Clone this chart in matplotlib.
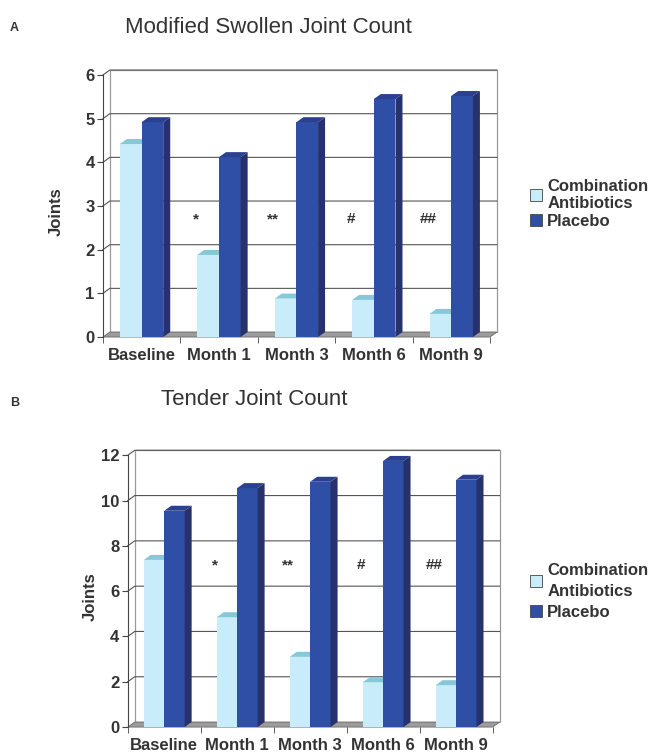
import numpy as np
import matplotlib.pyplot as plt
from matplotlib.patches import Polygon, Rectangle
from matplotlib.lines import Line2D

plt.rcParams['font.family'] = ['Liberation Sans', 'DejaVu Sans']

months = ['Baseline', 'Month 1', 'Month 3', 'Month 6', 'Month 9']
marks = ['', '*', '**', '#', '##']

swollen_combo = [4.42, 1.88, 0.88, 0.85, 0.53]
swollen_placebo = [4.92, 4.12, 4.92, 5.45, 5.52]
tender_combo = [7.38, 4.85, 3.1, 1.98, 1.85]
tender_placebo = [9.55, 10.55, 10.83, 11.75, 10.92]

light, light_top = '#c9ecfa', '#86c8d8'
dark, dark_top, dark_side = '#2f4ea6', '#2b4190', '#27316b'
W, H, DPI = 6.55, 7.55, 100
DEPTH_X, DEPTH_Y = 7, 5  # pixels


def bar3d(ax, x, h, w, ddx, ddy, front, top, side):
    ax.bar(x, h, w, align='edge', color=front, edgecolor='none', zorder=3)
    ax.add_patch(Polygon([(x, h), (x + w, h), (x + w + ddx, h + ddy), (x + ddx, h + ddy)],
                         closed=True, fc=top, ec='none', zorder=3, clip_on=False))
    ax.add_patch(Polygon([(x + w, 0), (x + w, h), (x + w + ddx, h + ddy), (x + w + ddx, ddy)],
                         closed=True, fc=side, ec='none', zorder=3, clip_on=False))


def panel(ax, combo, placebo, ymax, step, mark_y, legend_y, label_px, linesp, labsp):
    ax.set_xlim(-0.5, 4.5)
    ax.set_ylim(0, ymax)
    pos = ax.get_position()
    ddx = DEPTH_X / (pos.width * W * DPI / 5)
    ddy = DEPTH_Y / (pos.height * H * DPI / ymax)
    x0, x1 = -0.5, 4.5

    # back wall, side wall, floor
    ax.add_patch(Rectangle((x0 + ddx, ddy), x1 - x0, ymax, fc='white', ec='#9a9a9a',
                           lw=0.9, zorder=0, clip_on=False))
    for y in np.arange(step, ymax + step / 2, step):
        ax.add_line(Line2D([x0, x0 + ddx, x1 + ddx], [y, y + ddy, y + ddy], color='#555555',
                           lw=0.8, zorder=1, clip_on=False))
    ax.add_patch(Polygon([(x0, 0), (x1, 0), (x1 + ddx, ddy), (x0 + ddx, ddy)], closed=True,
                         fc='#9c9c9c', ec='#6a6a6a', lw=0.6, zorder=1, clip_on=False))

    w = 0.28
    xs = np.arange(len(months))
    for i in xs:
        bar3d(ax, i - w, combo[i], w, ddx, ddy, light, light_top, light)
        bar3d(ax, i, placebo[i], w, ddx, ddy, dark, dark_top, dark_side)
        if marks[i]:
            ax.text(i - 0.3, mark_y, marks[i], ha='center', va='center', fontsize=11,
                    color='#333333', fontweight='bold', zorder=4)

    ax.set_yticks(np.arange(0, ymax + step / 2, step))
    ax.set_xticks(xs)
    ax.set_xticklabels(months)
    ax.set_xticks(np.arange(-0.5, 5, 1), minor=True)
    ax.tick_params(axis='x', which='major', length=0, pad=8)
    ax.tick_params(axis='x', which='minor', length=4, direction='out', color='#444444')
    ax.tick_params(axis='y', length=4, direction='out', color='#444444', pad=2)
    for lab in ax.get_xticklabels() + ax.get_yticklabels():
        lab.set_fontweight('bold')
        lab.set_fontsize(12)
        lab.set_color('#333333')
    for s in ['top', 'right', 'bottom']:
        ax.spines[s].set_visible(False)
    ax.spines['left'].set_color('#444444')
    ax.set_ylabel('Joints', fontsize=12, fontweight='bold', color='#333333')
    ax.yaxis.set_label_coords(-label_px / (pos.width * W * DPI), 0.48)
    ax.patch.set_alpha(0)

    h_light = Rectangle((0, 0), 1, 1, fc=light, ec='#444444', lw=0.6)
    h_dark = Rectangle((0, 0), 1, 1, fc=dark, ec='#444444', lw=0.6)
    leg = ax.legend([h_light, h_dark], ['Combination\nAntibiotics', 'Placebo'],
                    loc='upper left', bbox_to_anchor=(0.796, legend_y),
                    bbox_transform=fig.transFigure, frameon=False,
                    prop={'weight': 'bold', 'size': 12}, handlelength=0.75,
                    handleheight=0.7, handletextpad=0.3, labelspacing=labsp,
                    borderpad=0)
    for t in leg.get_texts():
        t.set_color('#333333')
        t.set_linespacing(linesp)


fig = plt.figure(figsize=(W, H), dpi=DPI)
ax1 = fig.add_axes([0.157, 0.5536, 0.591, 0.347])
ax2 = fig.add_axes([0.195, 0.037, 0.557, 0.360])

panel(ax1, swollen_combo, swollen_placebo, 6, 1, 2.7, 0.774, 39, 1.15, 0.2)
panel(ax2, tender_combo, tender_placebo, 12, 2, 7.15, 0.266, 30, 1.55, 0.35)

fig.text(0.41, 0.963, 'Modified Swollen Joint Count', ha='center', va='center',
         fontsize=16, color='#333333')
fig.text(0.022, 0.963, 'A', ha='center', va='center', fontsize=9, fontweight='bold',
         color='#333333')
fig.text(0.388, 0.471, 'Tender Joint Count', ha='center', va='center',
         fontsize=16, color='#333333')
fig.text(0.022, 0.466, 'B', ha='center', va='center', fontsize=9, fontweight='bold',
         color='#333333')

fig.savefig('out.png', dpi=DPI)
